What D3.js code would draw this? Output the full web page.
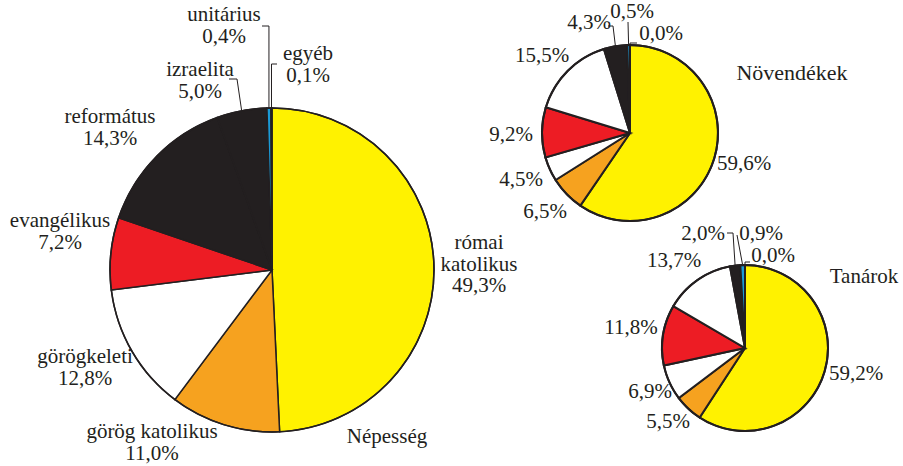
<!DOCTYPE html>
<html>
<head>
<meta charset="utf-8">
<script src="https://cdn.jsdelivr.net/npm/d3@7"></script>
<style>
  body { margin: 0; background: #fff; }
</style>
</head>
<body>
<script>
// data
var religions = ["római katolikus", "görög katolikus", "görögkeleti", "evangélikus",
                 "református", "izraelita", "unitárius", "egyéb"];
var nepesseg   = [49.3, 11.0, 12.8, 7.2, 14.3, 5.0, 0.4, 0.1];
var novendekek = [59.6, 6.5, 4.5, 9.2, 15.5, 4.3, 0.5, 0.0];
var tanarok    = [59.2, 5.5, 6.9, 11.8, 13.7, 2.0, 0.9, 0.0];
var chartTitles = ["Népesség", "Növendékek", "Tanárok"];

var ink = "#231f20";
var colorsBig   = ["#fff200", "#f6a21f", "#ffffff", "#ed1c24", ink, ink, "#1b9ad6", "#ffffff"];
var colorsSmall = ["#fff200", "#f6a21f", "#ffffff", "#ed1c24", "#ffffff", ink, "#1b9ad6", "#ffffff"];

var width = 903, height = 466;
var lineH = 21.5;
var fontFam = "'Liberation Serif', 'Times New Roman', Times, serif";

var svg = d3.select("body")
    .append("svg")
    .attr("width", width)
    .attr("height", height)
    .attr("id", "drawhere")
    .style("font-family", fontFam);

var fmt = function(v) { return d3.format(".1f")(v).replace(".", ",") + "%"; };

// label layout: offsets from pie centre (centre x of text, first baseline),
// names = show the category name above the value
var charts = [
    {
        values: nepesseg, colors: colorsBig, cx: 272, cy: 270, r: 162, stroke: 1.5, names: true,
        title: [115, 173],
        labels: [[207, -21], [-120, 168], [-187, 93], [-212, -43], [-162, -147], [-72, -194], [-48, -249], [36, -210]],
        // leader lines: i -> label side points (relative), ends at slice edge
        leaders: {5: [[-43, -191], [-35, -191]], 6: [[-10, -244], null], 7: [[5, -206], null]}
    },
    {
        values: novendekek, colors: colorsSmall, cx: 630, cy: 133, r: 88, stroke: 2, names: false,
        title: [162, -53],
        labels: [[114, 37], [-85, 85], [-109, 53], [-119, 8], [-88, -71], [-41, -104], [2, -115], [31, -93]],
        leaders: {5: [[-22, -107], [-17, -107]], 6: [[-2, -111]], 7: [[7, -90], null]}
    },
    {
        values: tanarok, colors: colorsSmall, cx: 745, cy: 348, r: 83, stroke: 2, names: false,
        title: [119, -65],
        labels: [[111, 32], [-77, 80], [-95, 50], [-114, -14], [-71, -81], [-42, -108], [16, -108], [28, -86]],
        leaders: {5: [[-18, -115], [-12, -115]], 6: [[-8, -113]], 7: [[5, -86], null]}
    }
];

var pie = d3.pie().sort(null).value(function(d) { return d; });

function edgePoint(c, a, rr) {
    return [c.cx + rr * Math.sin(a), c.cy - rr * Math.cos(a)];
}

charts.forEach(function(c, ci) {
    var arcs = pie(c.values);
    var arc = d3.arc().innerRadius(0).outerRadius(c.r);
    var g = svg.append("g").attr("transform", "translate(" + c.cx + "," + c.cy + ")");

    g.selectAll("path")
        .data(arcs)
        .enter()
        .append("path")
        .attr("d", arc)
        .attr("fill", function(d, i) { return c.colors[i]; })
        .attr("stroke", ink)
        .attr("stroke-width", c.stroke)
        .attr("stroke-linejoin", "miter");

    // outer ring
    g.append("circle")
        .attr("r", c.r)
        .attr("fill", "none")
        .attr("stroke", ink)
        .attr("stroke-width", c.stroke);

    // leader lines
    Object.keys(c.leaders).forEach(function(k) {
        var d = arcs[k];
        var mid = (d.startAngle + d.endAngle) / 2;
        var end = edgePoint(c, mid, c.r);
        var pts = c.leaders[k].map(function(p) {
            if (p === null) return null;
            return [c.cx + p[0], c.cy + p[1]];
        });
        // null = go straight over to the x of the slice edge
        for (var j = 0; j < pts.length; j++) {
            if (pts[j] === null) pts[j] = [end[0], pts[j - 1][1]];
        }
        pts.push(end);
        svg.append("path")
            .attr("d", d3.line()(pts))
            .attr("fill", "none")
            .attr("stroke", ink)
            .attr("stroke-width", 1);
    });

    // value labels
    arcs.forEach(function(d, i) {
        var pos = c.labels[i];
        var lines = [];
        if (c.names) {
            if (i === 0) lines = religions[0].split(" ");
            else lines = [religions[i]];
        }
        lines.push(fmt(c.values[i]));
        var t = svg.append("text")
            .attr("text-anchor", "middle")
            .attr("font-family", fontFam)
            .attr("font-size", "21px")
            .attr("fill", ink)
            .attr("x", c.cx + pos[0])
            .attr("y", c.cy + pos[1]);
        lines.forEach(function(s, j) {
            t.append("tspan")
                .attr("x", c.cx + pos[0])
                .attr("dy", j === 0 ? 0 : lineH)
                .text(s);
        });
    });

    svg.append("text")
        .attr("text-anchor", "middle")
        .attr("font-family", fontFam)
        .attr("font-size", ci === 1 ? "22px" : "21px")
        .attr("fill", ink)
        .attr("x", c.cx + c.title[0])
        .attr("y", c.cy + c.title[1])
        .text(chartTitles[ci]);
});
</script>
</body>
</html>
